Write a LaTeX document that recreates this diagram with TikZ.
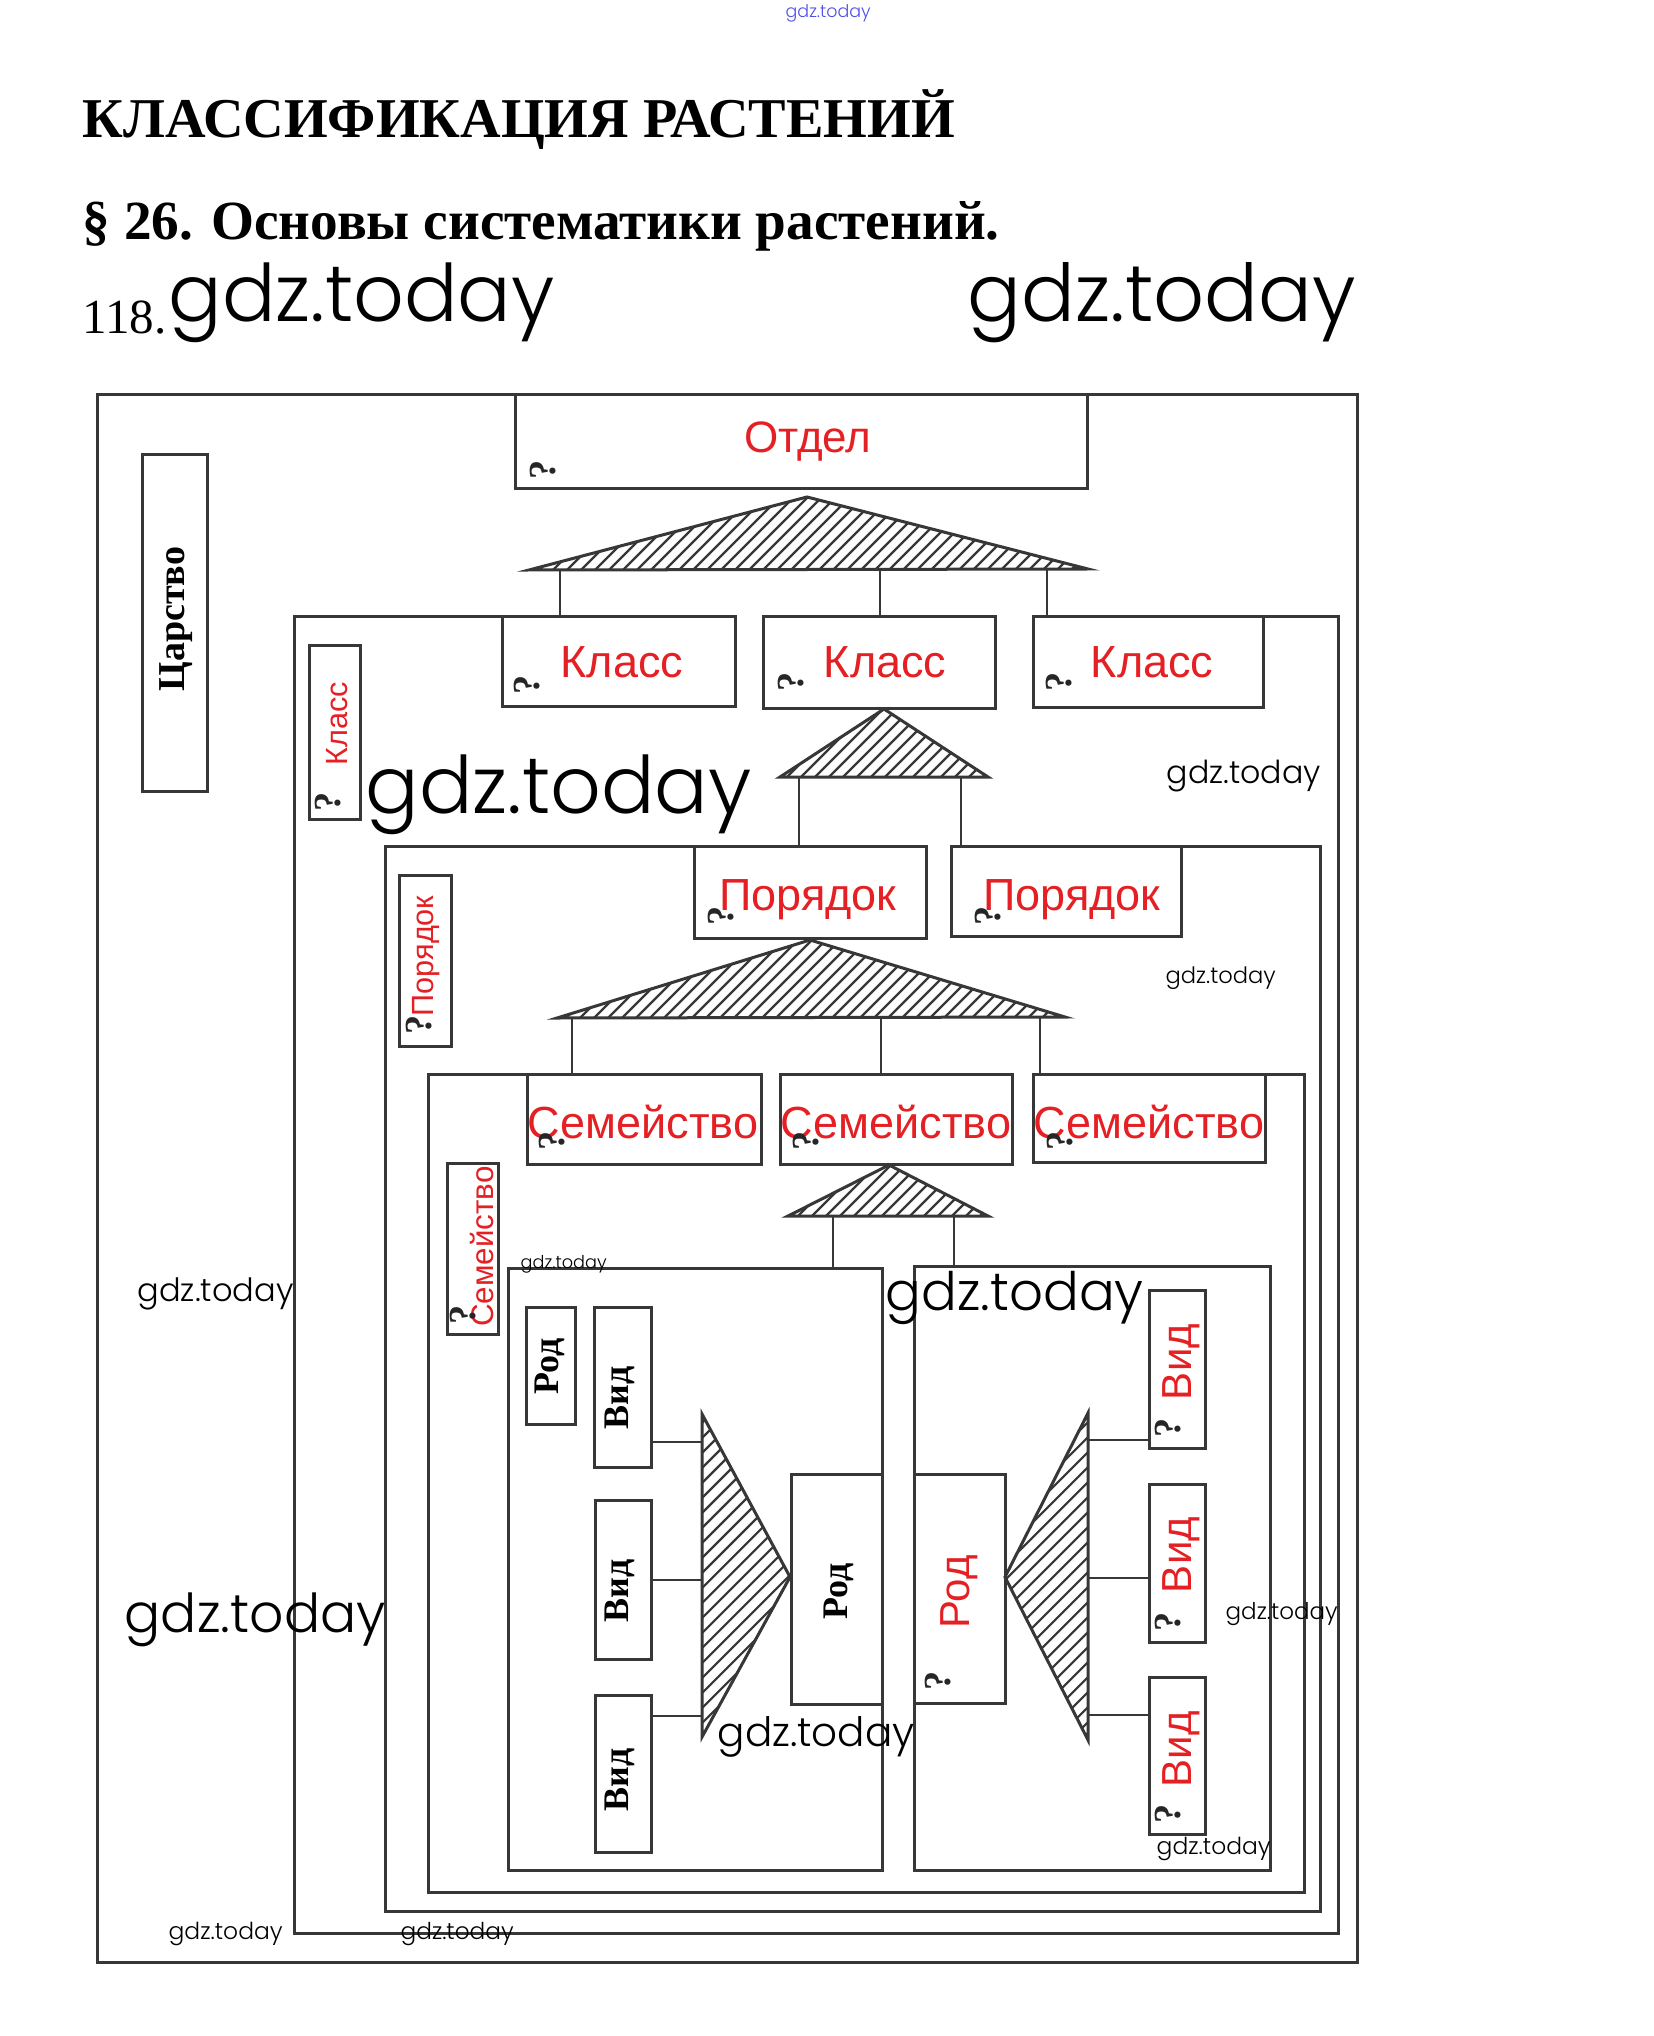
\documentclass[tikz,border=0pt]{standalone}
\usepackage{graphicx}
\usepackage{fontspec}
\setmainfont{Liberation Serif}
\newfontfamily\sansred{Liberation Sans}
\IfFontExistsTF{Poppins Light}{\newfontfamily\wm{Poppins Light}}{\newfontfamily\wm{Poppins}}
\usetikzlibrary{calc}
\newlength\pxu \setlength\pxu{0.3pt}
\definecolor{redtxt}{RGB}{228,32,36}
\definecolor{ln}{RGB}{55,55,55}
\definecolor{wmblue}{RGB}{80,80,230}
\newcommand\bx[5]{\node[box, minimum width={(#4-#2)*0.3pt}, minimum height={(#5-#3)*0.3pt}] (#1) at (#2,#3) {};}
\newcommand\wmark[4]{\node[wmk] (#1) at (#2,#3) {\resizebox{#4\pxu}{!}{\wm gdz.today}};}
\tikzset{
 box/.style={draw=ln, line width=0.9pt, inner sep=0pt, outer sep=0pt, anchor=north west},
 frame/.style={draw=ln, line width=0.9pt, line join=miter},
 link/.style={draw=ln, line width=0.8pt},
 tri/.style={draw=ln, line width=0.9pt, line join=miter},
 hl/.style={draw=ln, line width=0.65pt},
 redlab/.style={text=redtxt, font=\sansred\fontsize{13.5}{14}\selectfont, inner sep=0pt, anchor=base},
 redv/.style={text=redtxt, font=\sansred\fontsize{9.2}{10}\selectfont, inner sep=0pt, anchor=base, rotate=90},
 redbig/.style={text=redtxt, font=\sansred\fontsize{12.6}{13}\selectfont, inner sep=0pt, anchor=base, rotate=90},
 blk/.style={text=black, font=\bfseries\fontsize{10.8}{12}\selectfont, inner sep=0pt, anchor=base, rotate=90},
 qm/.style={text=black!85, font=\bfseries\fontsize{11.5}{12}\selectfont, inner sep=0pt, rotate=90},
 wmk/.style={inner sep=0pt, anchor=west},
}
\begin{document}
\begin{tikzpicture}[x=0.3pt,y=-0.3pt]
\fill[white] (0,0) rectangle (1653,2036);
\useasboundingbox (0,0) rectangle (1653,2036);

% headings
\node[anchor=base west, inner sep=0pt] (title) at (82,138) {\resizebox{872\pxu}{!}{\bfseries КЛАССИФИКАЦИЯ РАСТЕНИЙ}};
\node[anchor=base west, inner sep=0pt] (sub) at (82,240) {\resizebox{917\pxu}{!}{\bfseries § 26. Основы систематики растений.}};
\node[anchor=base west, inner sep=0pt] (num) at (82,334) {\resizebox{84\pxu}{!}{118.}};

% boxes
\bx{otdel}{515}{395}{1087}{489}
\bx{k1}{502}{617}{735}{706}
\bx{k2}{763}{617}{995}{708}
\bx{k3}{1033}{617}{1263}{707}
\bx{p1}{694}{846}{926}{938}
\bx{p2}{951}{846}{1181}{936}
\bx{s1}{527}{1074}{761}{1164}
\bx{s2}{780}{1074}{1012}{1164}
\bx{s3}{1033}{1074}{1265}{1162}
\bx{tsar}{142}{455}{207}{791}
\bx{kv}{309}{646}{360}{819}
\bx{pv}{399}{875}{451}{1046}
\bx{sv}{447}{1163}{498}{1334}
\bx{rodl}{508}{1268}{882}{1870}
\bx{rodr}{914}{1266}{1270}{1870}
\bx{rsmall}{526}{1307}{575}{1424}
\bx{vl1}{594}{1307}{651}{1467}
\bx{vl2}{595}{1500}{651}{1659}
\bx{vl3}{595}{1695}{651}{1852}
\bx{rodbl}{791}{1474}{882}{1704}
\bx{rodrd}{914}{1474}{1005}{1703}
\bx{vr1}{1149}{1290}{1205}{1448}
\bx{vr2}{1149}{1484}{1205}{1642}
\bx{vr3}{1149}{1677}{1205}{1834}

% containers
\draw[frame] (otdel.north west) -- (97,395) -- (97,1962) -- (1357,1962) -- (1357,395) -- (otdel.north east);
\draw[frame] (k1.north west) -- (294,617) -- (294,1933) -- (1338,1933) -- (1338,617) -- (k3.north east);
\draw[frame] (p1.north west) -- (385,846) -- (385,1911) -- (1320,1911) -- (1320,846) -- (p2.north east);
\draw[frame] (s1.north west) -- (428,1074) -- (428,1892) -- (1304,1892) -- (1304,1074) -- (s3.north east);

% triangles
\coordinate (t1a) at (807,497); \coordinate (t1b) at (529,570); \coordinate (t1c) at (1088,569);
\coordinate (t2a) at (884,709); \coordinate (t2b) at (780,777); \coordinate (t2c) at (988,777);
\coordinate (t3a) at (810,940); \coordinate (t3b) at (557,1018); \coordinate (t3c) at (1065,1017);
\coordinate (t4a) at (889,1165); \coordinate (t4b) at (788,1216); \coordinate (t4c) at (988,1216);
\coordinate (t5a) at (790,1577); \coordinate (t5b) at (702,1414); \coordinate (t5c) at (702,1737);
\coordinate (t6a) at (1005,1577); \coordinate (t6b) at (1088,1413); \coordinate (t6c) at (1088,1740);

\begin{scope}\clip (t1a)--(t1b)--(t1c)--cycle;
\foreach \c in {1095,1109,...,1665} \draw[hl] (\c,0) -- ({\c-2100},2100); \end{scope}
\begin{scope}\clip (t2a)--(t2b)--(t2c)--cycle;
\foreach \c in {1550,1564,...,1770} \draw[hl] (\c,0) -- ({\c-2100},2100); \end{scope}
\begin{scope}\clip (t3a)--(t3b)--(t3c)--cycle;
\foreach \c in {1570,1584,...,2090} \draw[hl] (\c,0) -- ({\c-2100},2100); \end{scope}
\begin{scope}\clip (t4a)--(t4b)--(t4c)--cycle;
\foreach \c in {2000,2014,...,2210} \draw[hl] (\c,0) -- ({\c-2100},2100); \end{scope}
\begin{scope}\clip (t5a)--(t5b)--(t5c)--cycle;
\foreach \c in {2110,2125,...,2450} \draw[hl] (\c,0) -- ({\c-2100},2100); \end{scope}
\begin{scope}\clip (t6a)--(t6b)--(t6c)--cycle;
\foreach \c in {2495,2510,...,2835} \draw[hl] (\c,0) -- ({\c-2100},2100); \end{scope}
\foreach \t in {t1,t2,t3,t4,t5,t6} \draw[tri] (\t a)--(\t b)--(\t c)--cycle;

% connectors
\coordinate (c11) at (560,569.5); \coordinate (c12) at (880,569.5); \coordinate (c13) at (1047,569);
\draw[link] (c11) -- (c11 |- k1.north); \draw[link] (c12) -- (c12 |- k2.north); \draw[link] (c13) -- (c13 |- k3.north);
\coordinate (c21) at (799,777); \coordinate (c22) at (961,777);
\draw[link] (c21) -- (c21 |- p1.north); \draw[link] (c22) -- (c22 |- p2.north);
\coordinate (c31) at (572,1017.5); \coordinate (c32) at (881,1017.5); \coordinate (c33) at (1040,1017);
\draw[link] (c31) -- (c31 |- s1.north); \draw[link] (c32) -- (c32 |- s2.north); \draw[link] (c33) -- (c33 |- s3.north);
\coordinate (c41) at (833,1216); \coordinate (c42) at (954,1216);
\draw[link] (c41) -- (c41 |- rodl.north); \draw[link] (c42) -- (c42 |- rodr.north);
\coordinate (c51) at (702,1442); \coordinate (c52) at (702,1580); \coordinate (c53) at (702,1716);
\draw[link] (c51) -- (c51 -| vl1.east); \draw[link] (c52) -- (c52 -| vl2.east); \draw[link] (c53) -- (c53 -| vl3.east);
\coordinate (c61) at (1088,1440); \coordinate (c62) at (1088,1578); \coordinate (c63) at (1088,1715);
\draw[link] (c61) -- (c61 -| vr1.west); \draw[link] (c62) -- (c62 -| vr2.west); \draw[link] (c63) -- (c63 -| vr3.west);

% labels
\node[redlab, font=\sansred\fontsize{13.2}{14}\selectfont] (lotdel) at (808,453) {Отдел};
\node[redlab] (lk1) at (622,677) {Класс};
\node[redlab] (lk2) at (885,677) {Класс};
\node[redlab] (lk3) at (1152,677) {Класс};
\node[redlab] (lp1) at (808,910) {Порядок};
\node[redlab] (lp2) at (1072,910) {Порядок};
\node[redlab] (ls1) at (643,1138) {Семейство};
\node[redlab] (ls2) at (896,1138) {Семейство};
\node[redlab] (ls3) at (1149,1138) {Семейство};

\node[blk, font=\bfseries\fontsize{11.4}{12}\selectfont] (ltsar) at (184,619) {Царство};
\node[redv] (lkv) at (347,723.5) {Класс};
\node[redv] (lpv) at (433,956) {Порядок};
\node[redv, font=\sansred\fontsize{9.4}{10}\selectfont] (lsv) at (493,1246.5) {Семейство};
\node[blk] (lrs) at (558,1366) {Род};
\node[blk] (lv1) at (628,1398) {Вид};
\node[blk] (lv2) at (628,1591) {Вид};
\node[blk] (lv3) at (628,1780) {Вид};
\node[blk] (lrb) at (847,1591) {Род};
\node[redbig] (lrr) at (969,1592) {Род};
\node[redbig] (lw1) at (1191,1362) {Вид};
\node[redbig] (lw2) at (1191,1555) {Вид};
\node[redbig] (lw3) at (1191,1749) {Вид};

% question marks
\node[qm] (q0) at (543,470) {?};
\node[qm] (q1) at (527.5,684.5) {?};
\node[qm] (q2) at (791.5,681.5) {?};
\node[qm] (q3) at (1059.5,681.5) {?};
\node[qm] (q4) at (721.5,916) {?};
\node[qm] (q5) at (988,916) {?};
\node[qm] (q6) at (552,1141) {?};
\node[qm] (q7) at (806,1141) {?};
\node[qm] (q8) at (1060,1141) {?};
\node[qm] (q9) at (328,801.5) {?};
\node[qm] (q10) at (419,1025) {?};
\node[qm] (q11) at (463,1315) {?};
\node[qm] (q12) at (938,1681) {?};
\node[qm] (q13) at (1168,1428) {?};
\node[qm] (q14) at (1168,1622) {?};
\node[qm] (q15) at (1168,1814) {?};

% watermarks
\node[wmk, text=wmblue] (w1) at (785,13) {\resizebox{85\pxu}{!}{\wm gdz.today}};
\wmark{w2}{168}{303}{386}
\wmark{w3}{967}{303}{388}
\wmark{w4}{365}{795}{386}
\wmark{w5}{1166}{776}{154}
\wmark{w6}{1165}{978}{110}
\wmark{w7}{137}{1294}{156}
\wmark{w8}{124}{1620}{261}
\wmark{w9}{885}{1298}{258}
\wmark{w10}{520}{1264}{86}
\wmark{w11}{717}{1737}{197}
\wmark{w12}{1225}{1614}{112}
\wmark{w13}{1156}{1849}{114}
\wmark{w14}{168}{1934}{114}
\wmark{w15}{400}{1934}{113}
\end{tikzpicture}
\end{document}
